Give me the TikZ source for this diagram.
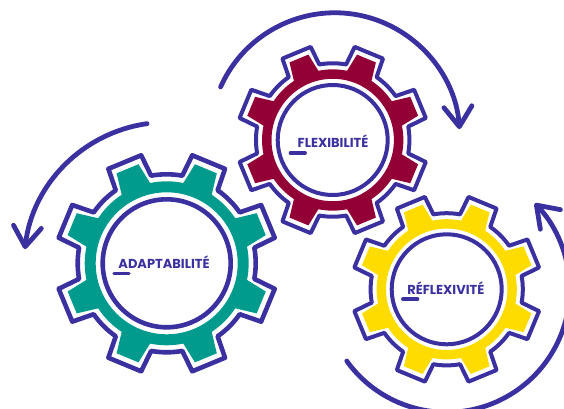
\documentclass[tikz,border=0pt]{standalone}
\usepackage{fontspec}
\setsansfont{Poppins}
\usetikzlibrary{arrows.meta,positioning}
\definecolor{ink}{RGB}{58,48,160}
\definecolor{teal}{RGB}{0,155,141}
\definecolor{berry}{RGB}{147,0,53}
\definecolor{sun}{RGB}{255,220,0}
% one tooth per 45 degrees: tip radius, tip half angle, base radius, base half angle
\newcommand{\gearpath}[4]{({22.5-#4}:#3)
  \foreach \a in {22.5,67.5,...,337.5} {
    -- ({\a-#4}:#3) -- ({\a-#2}:#1) -- ({\a+#2}:#1) -- ({\a+#4}:#3)
    arc[start angle=\a+#4, end angle=\a+45-#4, radius=#3]
  } -- cycle}
% text, sideways shift, drop below the centre
\newcommand{\gearlabel}[3]{\hspace*{#2}\smash{\raisebox{#3}{#1}}}
\tikzset{
    %Define standard arrow tip
    >={Straight Barb[length=20pt,width=28pt,round]},
    %Define style for gears
    pics/gear/.style 2 args={code={
      \fill[#1, even odd rule] \gearpath{103}{6.6}{82}{10.8} (0,0) circle (71);
      \draw[ink, line width=#2, line join=round] \gearpath{111}{9.2}{89}{12.4};
    }},
    ring/.style={
      circle,
      draw=ink,
      text=ink,
      inner sep=0pt,
      font=\sffamily\bfseries\fontsize{13}{13}\selectfont},
    % Define arrow style
    arr/.style={
      ->,
      ink,
      line width=4.8pt,
      line cap=round},
    tick/.style={
      ink,
      line width=3.2pt,
      line cap=round}
}

\begin{document}
\begin{tikzpicture}[x=1pt, y=1pt, on grid]
    \useasboundingbox (0,0) rectangle (564,408);

    \node[ring, line width=4.6pt, minimum size=128pt] at (166.7,144.7) (adapt)
      {\gearlabel{ADAPTABILITÉ}{-5.4pt}{-4.9pt}};
    \node[ring, line width=4pt, minimum size=110pt, above right=123.3pt and 166pt of adapt] (flex)
      {\gearlabel{FLEXIBILITÉ}{0.6pt}{-7.8pt}};
    \node[ring, line width=4pt, minimum size=110pt, below right=149.3pt and 114pt of flex] (reflex)
      {\gearlabel{RÉFLEXIVITÉ}{-1.8pt}{-5.2pt}};

    \pic at (adapt) {gear={teal}{4.6pt}};
    \pic[scale=.862] at (flex) {gear={berry}{4pt}};
    \pic[scale=.855] at (reflex) {gear={sun}{4pt}};

    \draw[tick] ([shift={(-52.7,-10)}]adapt.center) -- ++(15,0);
    \draw[tick] ([shift={(-42.4,-13)}]flex.center) -- ++(15,0);
    \draw[tick] ([shift={(-44,-9.7)}]reflex.center) -- ++(15,0);

    \coordinate (adaptstart) at ([shift={(98:141)}]adapt.center);
    \coordinate (flexmid) at ([shift={(2.1,2.2)}]flex.center);
    \coordinate (flexstart) at ([shift={(156:125)}]flexmid);
    \coordinate (reflexstart) at ([shift={(215.7:123)}]reflex.center);

    \draw[arr] (adaptstart) arc[start angle=98, end angle=173.5, radius=143];
    \draw[arr] (flexstart) arc[start angle=156, end angle=4, radius=125];
    \draw[arr] (reflexstart) arc[start angle=215.7, end angle=404.3, radius=123];
\end{tikzpicture}
\end{document}
